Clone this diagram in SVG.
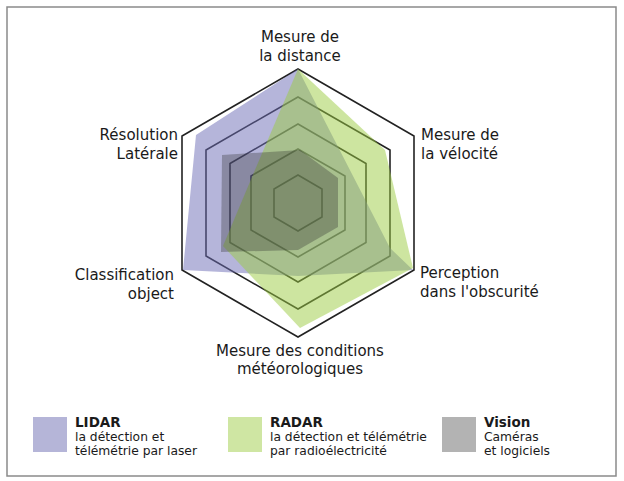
<svg xmlns="http://www.w3.org/2000/svg" width="624" height="481" viewBox="0 0 624 481">
<style>
.t{font-family:"DejaVu Sans","Liberation Sans",sans-serif;font-size:15px;fill:#1a1a1a}
.l{font-family:"DejaVu Sans","Liberation Sans",sans-serif;font-size:12.3px;fill:#1a1a1a}
.b{font-weight:bold;font-size:13.5px}
.ring{fill:none;stroke:#222;stroke-width:1.6}
</style>
<rect x="0" y="0" width="624" height="481" fill="#fff"/>
<rect x="7" y="7" width="609" height="469" fill="#fff" stroke="#8a8a8a" stroke-width="1.5"/>
<g id="grid">
<polygon class="ring" points="298,69 414,136 414,270 298,337 182,270 182,136"/>
<polygon class="ring" points="298,97 390,150 390,256 298,309 206,256 206,150"/>
<polygon class="ring" points="298,124 366,163.5 366,242.5 298,282 230,242.5 230,163.5"/>
<polygon class="ring" points="298,149 345,176 345,230 298,257 251,230 251,176"/>
<polygon class="ring" points="298,175 322,189 322,217 298,231 274,217 274,189"/>
</g>
<g id="lidar"><polygon points="298,69 390,248 413,270 298,276 183,270 196,135" fill="#6c6cb5" fill-opacity="0.5"/></g>
<g id="radar"><polygon points="298,69 385,150 413,268 300,328 223,246 252,177" fill="#9ccc42" fill-opacity="0.5"/></g>
<g id="vision"><polygon points="222,155 300,150 338,178 338,227 298,250 221,252" fill="#2a2a2a" fill-opacity="0.32"/></g>
<g id="labels">
<text class="t" x="300" y="42" text-anchor="middle">Mesure de</text>
<text class="t" x="300" y="61" text-anchor="middle">la distance</text>
<text class="t" x="421" y="140">Mesure de</text>
<text class="t" x="421" y="159">la vélocité</text>
<text class="t" x="178" y="140" text-anchor="end">Résolution</text>
<text class="t" x="178" y="159" text-anchor="end">Latérale</text>
<text class="t" x="420" y="278">Perception</text>
<text class="t" x="420" y="297">dans l'obscurité</text>
<text class="t" x="174" y="280" text-anchor="end">Classification</text>
<text class="t" x="174" y="299" text-anchor="end">object</text>
<text class="t" x="300" y="356" text-anchor="middle">Mesure des conditions</text>
<text class="t" x="300" y="374" text-anchor="middle">météorologiques</text>
</g>
<g id="legend-lidar"><rect x="33" y="417" width="34" height="35" fill="#b5b5d8"/>
<text class="l b" x="75" y="427">LIDAR</text><text class="l" x="75" y="441">la détection et</text><text class="l" x="75" y="455">télémétrie par laser</text></g>
<g id="legend-radar"><rect x="228" y="417" width="34" height="35" fill="#cfe6a3"/>
<text class="l b" x="270" y="427">RADAR</text><text class="l" x="270" y="441">la détection et télémétrie</text><text class="l" x="270" y="455">par radioélectricité</text></g>
<g id="legend-vision"><rect x="442" y="417" width="34" height="35" fill="#b3b3b3"/>
<text class="l b" x="484" y="427">Vision</text><text class="l" x="484" y="441">Caméras</text><text class="l" x="484" y="455">et logiciels</text></g>
</svg>
